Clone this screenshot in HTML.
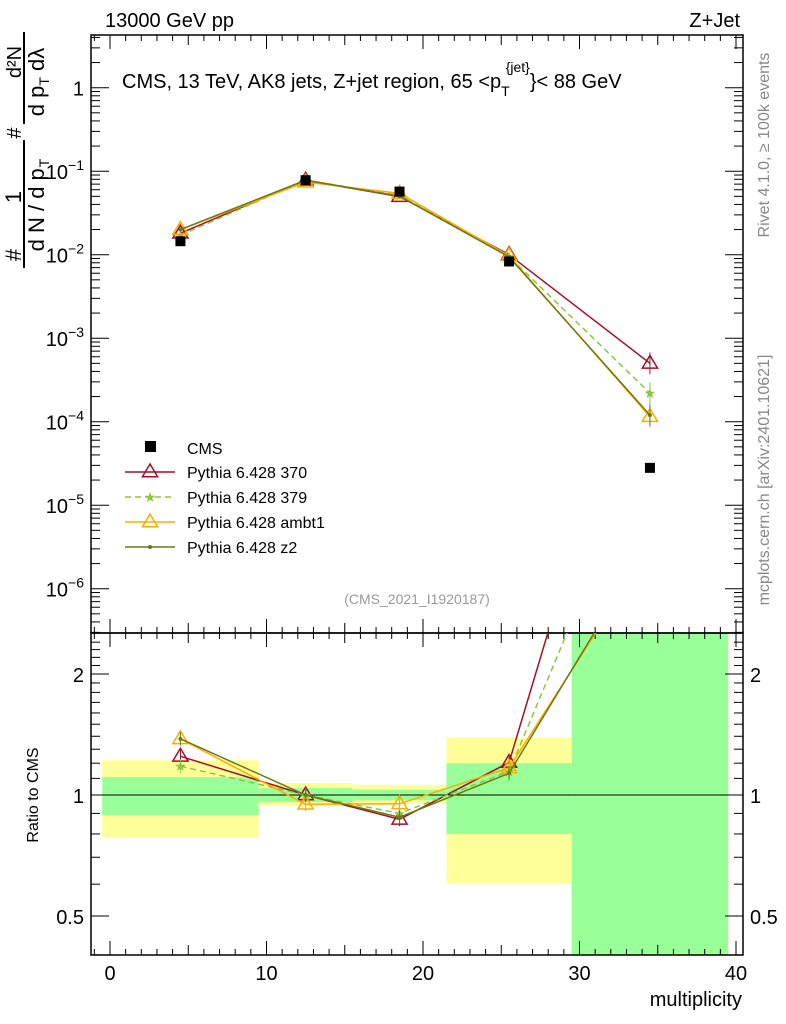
<!DOCTYPE html>
<html><head><meta charset="utf-8"><style>
html,body{margin:0;padding:0;background:#fff;width:786px;height:1024px;overflow:hidden;}
svg{display:block;font-family:"Liberation Sans",sans-serif;}
</style></head><body>
<svg id="c" width="786" height="1024" viewBox="0 0 786 1024"></svg>
<script>
const xCenters=[4.5,12.5,18.5,25.5,34.5];
const binEdges=[-0.5,9.5,15.5,21.5,29.5,39.5];
const cms=[0.0145,0.078,0.057,0.0083,2.8e-5];
const mc370=[0.0181,0.078,0.0496,0.0100,5.0e-4];
const mc379=[0.0171,0.078,0.0513,0.0095,2.2e-4];
const mcAmbt1=[0.0200,0.074,0.0542,0.0097,1.15e-4];
const mcZ2=[0.0200,0.078,0.0502,0.0094,1.2e-4];
const yellowHi=[1.22,1.07,1.06,1.39,10];
const yellowLo=[0.786,0.94,0.95,0.604,0.1];
const greenHi=[1.108,1.04,1.03,1.2,10];
const greenLo=[0.892,0.96,0.97,0.8,0.1];
const yTicksMain=[0,-1,-2,-3,-4,-5,-6];
const xTicks=[0,10,20,30,40];
const rTicks=[0.5,1,2];

const NS="http://www.w3.org/2000/svg";
const svg=document.getElementById('c');
function el(t,a,p){const e=document.createElementNS(NS,t);for(const k in a)e.setAttribute(k,a[k]);(p||svg).appendChild(e);return e;}
const L=91,R=743,T=35,MB=633,RB=955;
const X=v=>110+v*15.65;
const YM=v=>87.7-Math.log10(v)*83.5;
const YR=v=>795-Math.log2(v)*121;
const defs=el('defs',{});
const cp1=el('clipPath',{id:'cm'},defs);el('rect',{x:L,y:T,width:R-L,height:MB-T},cp1);
const cp2=el('clipPath',{id:'cr'},defs);el('rect',{x:L,y:MB,width:R-L,height:RB-MB},cp2);
const gb=el('g',{'clip-path':'url(#cr)'});

for(let i=0;i<5;i++){
 const x0=X(binEdges[i]),x1=X(binEdges[i+1]);
 const y=el('rect',{x:x0,y:YR(yellowHi[i]),width:x1-x0,height:YR(yellowLo[i])-YR(yellowHi[i]),fill:'#ffff99'},gb);
 
 const g=el('rect',{x:x0,y:YR(greenHi[i]),width:x1-x0,height:YR(greenLo[i])-YR(greenHi[i]),fill:'#99ff99'},gb);
 
}
el('line',{x1:L,x2:R,y1:YR(1),y2:YR(1),stroke:'#000','stroke-width':1});
el('rect',{x:L,y:T,width:R-L,height:MB-T,fill:'none',stroke:'#000','stroke-width':1.5});
el('rect',{x:L,y:MB,width:R-L,height:RB-MB,fill:'none',stroke:'#000','stroke-width':1.5});
for(let v=-1;v<=40;v++){
 const big=v%10===0, mid=v%5===0;const len=big?14:(mid?10:6);
 el('line',{x1:X(v),x2:X(v),y1:T,y2:T+len,stroke:'#000'});
 el('line',{x1:X(v),x2:X(v),y1:MB,y2:MB-len,stroke:'#000'});
 el('line',{x1:X(v),x2:X(v),y1:MB,y2:MB+len,stroke:'#000'});
 el('line',{x1:X(v),x2:X(v),y1:RB,y2:RB-len,stroke:'#000'});
}
xTicks.forEach(v=>{const t=el('text',{x:X(v),y:980,'font-size':20,'text-anchor':'middle'});t.textContent=v;
 });
for(let d=-7;d<=0;d++){for(let m=1;m<10;m++){const v=m*Math.pow(10,d);const y=YM(v);if(y<T||y>MB)continue;
 const len=m===1?18:9;el('line',{x1:L,x2:L+len,y1:y,y2:y,stroke:'#000'});el('line',{x1:R,x2:R-len,y1:y,y2:y,stroke:'#000'});}}
yTicksMain.forEach(d=>{const y=YM(Math.pow(10,d));const t=el('text',{x:84,y:y+8,'font-size':20,'text-anchor':'end'});
 if(d===0)t.textContent='1';else{t.textContent='10';const s=el('tspan',{dy:-9,'font-size':14},t);s.textContent='−'+(-d);}
 });
for(let v=0.4;v<=2.5;v+=0.1){const y=YR(v);if(y<MB||y>RB)continue;const big=[0.5,1,2].some(a=>Math.abs(a-v)<1e-6);
 const len=big?18:9;el('line',{x1:L,x2:L+len,y1:y,y2:y,stroke:'#000'});el('line',{x1:R,x2:R-len,y1:y,y2:y,stroke:'#000'});}
rTicks.forEach(v=>{const y=YR(v);const a=el('text',{x:84,y:y+8,'font-size':20,'text-anchor':'end'});a.textContent=v;
 
 const b=el('text',{x:750,y:y+8,'font-size':20});b.textContent=v;
 });
const series=[
 {n:'pythia-370',d:mc370,c:'#a0102a',dash:'',m:'tri'},
 {n:'pythia-379',d:mc379,c:'#8cc63f',dash:'6,4',m:'star'},
 {n:'pythia-ambt1',d:mcAmbt1,c:'#ffaa00',dash:'',m:'tri'},
 {n:'pythia-z2',d:mcZ2,c:'#6b7a10',dash:'',m:'dot'}];
function marker(g,type,x,y,c,s){
 if(type==='tri')return el('polygon',{points:`${x},${y-s} ${x-s*0.95},${y+s*0.6} ${x+s*0.95},${y+s*0.6}`,fill:'none',stroke:c,'stroke-width':1.5},g);
 if(type==='star')return el('text',{x:x,y:y+5,'font-size':14,'text-anchor':'middle',fill:c},g);
 return el('circle',{cx:x,cy:y,r:2,fill:c},g);
}
const gm=el('g',{'clip-path':'url(#cm)'});
series.forEach(s=>{
 const g=el('g',{},gm);
 el('polyline',{points:s.d.map((v,i)=>X(xCenters[i])+','+YM(v)).join(' '),fill:'none',stroke:s.c,'stroke-width':1.5,'stroke-dasharray':s.dash},g);
 s.d.forEach((v,i)=>{const m=marker(g,s.m,X(xCenters[i]),YM(v),s.c,s.m==='tri'?8:0);if(s.m==='star')m.textContent='★';
  if(i===4){el('line',{x1:X(xCenters[i]),x2:X(xCenters[i]),y1:YM(v*1.35),y2:YM(v/1.35),stroke:s.c},g);}});
});
const gc=el('g',{},gm);
cms.forEach((v,i)=>{const r=el('rect',{x:X(xCenters[i])-5,y:YM(v)-5,width:10,height:10,fill:'#000'},gc);
 });
const gr=el('g',{'clip-path':'url(#cr)'});
series.forEach(s=>{
 const g=el('g',{},gr);
 const rat=s.d.map((v,i)=>v/cms[i]);
 el('polyline',{points:rat.map((v,i)=>X(xCenters[i])+','+YR(v)).join(' '),fill:'none',stroke:s.c,'stroke-width':1.5,'stroke-dasharray':s.dash},g);
 rat.forEach((v,i)=>{const x=X(xCenters[i]);el('line',{x1:x,x2:x,y1:YR(v*1.04),y2:YR(v/1.04),stroke:s.c},g);
  const m=marker(g,s.m,x,YR(v),s.c,s.m==='tri'?8:0);if(s.m==='star')m.textContent='★';});
});
const lg=el('g',{});
el('rect',{x:145,y:441,width:11,height:11,fill:'#000'},lg);
let t=el('text',{x:187,y:454,'font-size':16},lg);t.textContent='CMS';
const names=['Pythia 6.428 370','Pythia 6.428 379','Pythia 6.428 ambt1','Pythia 6.428 z2'];
series.forEach((s,i)=>{const y=472+i*25;const g=el('g',{},lg);
 el('line',{x1:125,x2:175,y1:y,y2:y,stroke:s.c,'stroke-width':1.5,'stroke-dasharray':s.dash},g);
 const m=marker(g,s.m,150,y,s.c,s.m==='tri'?8:0);if(s.m==='star')m.textContent='★';
 const tt=el('text',{x:187,y:y+6,'font-size':16},g);tt.textContent=names[i];});
function txt(x,y,s,str,a,name,extra){const e=el('text',Object.assign({x:x,y:y,'font-size':s,'text-anchor':a||'start'},extra||{}));e.textContent=str;
 return e;}
txt(105,27,20,'13000 GeV pp','start','header-left');
txt(740,27,20,'Z+Jet','end','header-right');
const title=txt(122,88,20,'CMS, 13 TeV, AK8 jets, Z+jet region, 65 <p','start','plot-title');
let s1=el('tspan',{dy:8,'font-size':14},title);s1.textContent='T';
let s2=el('tspan',{dy:-24,dx:-4,'font-size':14},title);s2.textContent='{jet}';
let s3=el('tspan',{dy:16,'font-size':20},title);s3.textContent='}< 88 GeV';
txt(417,604,14,'(CMS_2021_I1920187)','middle','analysis-id',{fill:'#999'});
txt(742,1006,20,'multiplicity','end','x-axis-title');
txt(0,0,16,'Ratio to CMS','middle','ratio-y-title',{transform:'translate(38,795) rotate(-90)'});
txt(0,0,16,'Rivet 4.1.0, ≥ 100k events','middle','rivet-label',{transform:'translate(769,145) rotate(-90)',fill:'#888'});
txt(0,0,16,'mcplots.cern.ch [arXiv:2401.10621]','middle','mcplots-label',{transform:'translate(769,480) rotate(-90)',fill:'#888'});
// y axis title
const yt=el('g',{});
function rt(x,y,s,str){const e=el('text',{x:0,y:0,'font-size':s,'text-anchor':'middle',transform:`translate(${x},${y}) rotate(-90)`},yt);e.textContent=str;return e;}
rt(21,255,22,'#');
rt(21,197,22,'1');
rt(21,133,20,'#');
rt(21,62,20,'d²N');
el('line',{x1:24,x2:24,y1:140,y2:268,stroke:'#000','stroke-width':2},yt);
el('line',{x1:24,x2:24,y1:32,y2:124,stroke:'#000','stroke-width':2},yt);
const a=rt(44,205,22,'d N / d p');const as=el('tspan',{dx:1,dy:5,'font-size':14},a);as.textContent='T';
const b=rt(44,82,22,'d p');const bs=el('tspan',{dy:5,'font-size':14},b);bs.textContent='T';const bt=el('tspan',{dy:-5,dx:6},b);bt.textContent='dλ';
</script>
</body></html>
